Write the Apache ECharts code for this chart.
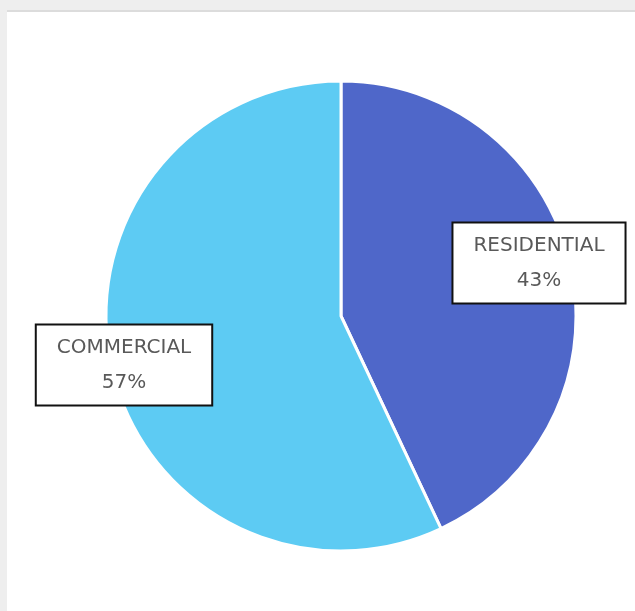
<!DOCTYPE html>
<html>
<head>
<meta charset="utf-8">
<script src="https://cdn.jsdelivr.net/npm/echarts@6/dist/echarts.min.js"></script>
<style>
  html, body { margin: 0; padding: 0; background: #eeeeee; width: 635px; height: 611px; overflow: hidden; }
  #frame { position: absolute; left: 7px; top: 10px; width: 628px; height: 601px; background: #ffffff; border-top: 2px solid #dcdcdc; box-sizing: border-box; }
  #chart { position: absolute; left: 0; top: 0; width: 628px; height: 599px; }
</style>
</head>
<body>
<div id="frame"><div id="chart"></div></div>
<script>
// Sector split
const categories = ['RESIDENTIAL', 'COMMERCIAL'];
const values = [43, 57];
const colors = ['#4f67c9', '#5dcbf3'];

// Where each callout box sits (box centre, chart pixels)
const labelSpots = [
  { x: 532, y: 251 },
  { x: 117, y: 353 }
];

const chart = echarts.init(document.getElementById('chart'));
chart.setOption({
  animation: false,
  series: [{
    type: 'pie',
    center: [334, 304],
    radius: 235,
    startAngle: 90,
    clockwise: true,
    data: categories.map((name, i) => ({
      name: name,
      value: values[i],
      itemStyle: { color: colors[i] }
    })),
    itemStyle: { borderColor: '#ffffff', borderWidth: 3 },
    label: {
      show: true,
      position: 'inside',
      formatter: '{b}\n{d}%',
      fontFamily: 'DejaVu Sans',
      fontSize: 20,
      color: '#595959',
      lineHeight: 35,
      align: 'center',
      verticalAlign: 'middle',
      backgroundColor: '#ffffff',
      borderColor: '#111111',
      borderWidth: 2,
      padding: [4, 20, 5, 20]
    },
    labelLine: { show: false },
    emphasis: { disabled: true },
    labelLayout: function (params) {
      const p = labelSpots[params.dataIndex];
      return { x: p.x, y: p.y, align: 'center', verticalAlign: 'middle' };
    }
  }]
});
</script>
</body>
</html>
